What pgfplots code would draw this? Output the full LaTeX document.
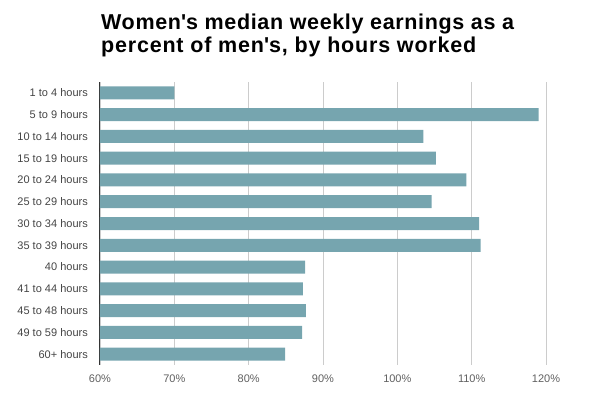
\documentclass[border=0pt]{standalone}
\usepackage{pgfplots}
\pgfplotsset{compat=1.18}
\usepackage{fontspec}
\setmainfont{Liberation Sans}
\definecolor{barc}{HTML}{76A5AF}
\definecolor{gridc}{HTML}{CCCCCC}
\definecolor{labc}{HTML}{444444}
\definecolor{axc}{HTML}{333333}
\begin{document}
\begin{tikzpicture}[x=1bp,y=1bp]
\useasboundingbox (-100bp,-33bp) rectangle (500bp,365bp);
\begin{axis}[
  at={(0,0)}, anchor=south west,
  scale only axis,
  width=446bp, height=283bp,
  xbar, bar width=13bp,
  xmin=60, xmax=120,
  ymin=-0.5, ymax=12.5,
  y dir=reverse,
  xtick={60,70,80,90,100,110,120},
  xticklabels={60\%,70\%,80\%,90\%,100\%,110\%,120\%},
  ytick={0,...,12},
  yticklabels={1 to 4 hours,5 to 9 hours,10 to 14 hours,15 to 19 hours,20 to 24 hours,25 to 29 hours,30 to 34 hours,35 to 39 hours,40 hours,41 to 44 hours,45 to 48 hours,49 to 59 hours,60+ hours},
  /pgf/number format/assume math mode=true,
  tick style={draw=none},
  major tick length=0pt,
  xmajorgrids, major grid style={gridc, line width=0.8bp},
  axis x line*=bottom, axis y line*=left,
  x axis line style={draw=none, -},
  y axis line style={draw=axc, line width=1bp, -},
  yticklabel style={font=\fontsize{11bp}{13bp}\selectfont, text=labc, inner sep=0pt, xshift=-12bp},
  xticklabel style={font=\fontsize{11bp}{13bp}\selectfont, text=labc!85!white, inner sep=0pt, yshift=-10bp},
  clip=true,
]
\addplot[fill=barc, draw=none] coordinates {
(70.0,0) (119.0,1) (103.5,2) (105.2,3) (109.3,4) (104.6,5) (111.0,6) (111.2,7) (87.6,8) (87.3,9) (87.7,10) (87.2,11) (84.9,12)
};
\end{axis}
\node[anchor=base west, inner sep=0pt, font=\fontsize{21.5bp}{23bp}\selectfont\bfseries] at (1bp,335bp) {\addfontfeatures{LetterSpace=3.0}Women\textquotesingle s median weekly earnings as a};
\node[anchor=base west, inner sep=0pt, font=\fontsize{21.5bp}{23bp}\selectfont\bfseries] at (1bp,312bp) {\addfontfeatures{LetterSpace=3.7}percent of men\textquotesingle s, by hours worked};
\end{tikzpicture}
\end{document}
